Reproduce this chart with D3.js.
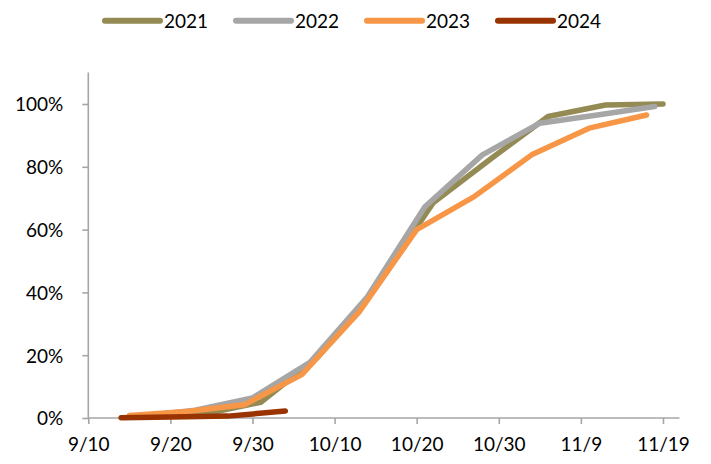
<!DOCTYPE html>
<html>
<head>
<meta charset="utf-8">
<script src="https://cdn.jsdelivr.net/npm/d3@7"></script>
<style>
  html, body { margin: 0; padding: 0; background: #fff; }
  svg { display: block; font-family: Lato, "Open Sans", sans-serif; }
</style>
</head>
<body>
<svg id="chart" width="711" height="464"></svg>
<script>
// Weekly cumulative progress, share of season total
const dates2021 = ["9/17", "9/24", "10/1", "10/8", "10/15", "10/22", "10/29", "11/5", "11/12", "11/19"];
const values2021 = [0.003, 0.012, 0.05, 0.195, 0.415, 0.685, 0.825, 0.96, 0.997, 1.0];

const dates2022 = ["9/16", "9/23", "9/30", "10/7", "10/14", "10/21", "10/28", "11/4", "11/11", "11/18"];
const values2022 = [0.005, 0.025, 0.064, 0.177, 0.386, 0.673, 0.838, 0.939, 0.965, 0.992];

const dates2023 = ["9/15", "9/22", "9/29", "10/6", "10/13", "10/20", "10/27", "11/3", "11/10", "11/17"];
const values2023 = [0.008, 0.021, 0.042, 0.138, 0.338, 0.6, 0.705, 0.838, 0.923, 0.965];

const dates2024 = ["9/14", "9/20", "9/27", "10/4"];
const values2024 = [0.001, 0.003, 0.006, 0.022];

const seriesNames = ["2021", "2022", "2023", "2024"];
const seriesColors = ["#948A54", "#A6A6A6", "#F79646", "#993300"];

const xTickLabels = ["9/10", "9/20", "9/30", "10/10", "10/20", "10/30", "11/9", "11/19"];
const yTickValues = [0, 0.2, 0.4, 0.6, 0.8, 1.0];

const parse = d3.timeParse("%m/%d");
const fmtDate = d => (d.getMonth() + 1) + "/" + d.getDate();

const series = [
  { name: seriesNames[0], color: seriesColors[0], pts: dates2021.map((d, i) => ({ x: parse(d), y: values2021[i] })) },
  { name: seriesNames[1], color: seriesColors[1], pts: dates2022.map((d, i) => ({ x: parse(d), y: values2022[i] })) },
  { name: seriesNames[2], color: seriesColors[2], pts: dates2023.map((d, i) => ({ x: parse(d), y: values2023[i] })) },
  { name: seriesNames[3], color: seriesColors[3], pts: dates2024.map((d, i) => ({ x: parse(d), y: values2024[i] })) }
];

const svg = d3.select("#chart");
const plotLeft = 88.3, plotRight = 679.4, plotTop = 72.6, plotBottom = 418;

const x = d3.scaleTime()
  .domain([parse("9/10"), parse("11/21")])
  .range([plotLeft, plotRight]);
const y = d3.scaleLinear()
  .domain([0, 1.1])
  .range([plotBottom, plotTop]);

const axisColor = "#A6A6A6";
const fontSize = 19;

// Y axis
const yAxis = svg.append("g")
  .attr("transform", `translate(${plotLeft},0)`)
  .call(d3.axisLeft(y).tickValues(yTickValues).tickFormat(d3.format(".0%")).tickSize(6).tickPadding(19));
yAxis.select(".domain").attr("d", `M0,${plotBottom}V${plotTop}`);

// X axis
const xAxis = svg.append("g")
  .attr("transform", `translate(0,${plotBottom})`)
  .call(d3.axisBottom(x).tickValues(xTickLabels.map(parse)).tickFormat(fmtDate).tickSize(6).tickPadding(10));
xAxis.select(".domain").attr("d", `M${plotLeft},0H${plotRight}`);

svg.selectAll(".domain, .tick line")
  .attr("stroke", axisColor)
  .attr("stroke-width", 1.6);
svg.selectAll(".tick text")
  .attr("fill", "#000")
  .style("font-size", fontSize + "px")
  .style("font-family", "Lato, sans-serif");
yAxis.selectAll(".tick text").attr("dy", "0.36em");
xAxis.selectAll(".tick text").attr("dy", "0.9em");

// Lines, earliest season drawn first
const line = d3.line().x(d => x(d.x)).y(d => y(d.y));
svg.append("g").selectAll("path")
  .data(series)
  .join("path")
  .attr("d", d => line(d.pts))
  .attr("fill", "none")
  .attr("stroke", d => d.color)
  .attr("stroke-width", 5.5)
  .attr("stroke-linecap", "round")
  .attr("stroke-linejoin", "round");

// Legend
const legendX = [105, 236, 367, 498];
const legend = svg.append("g").selectAll("g")
  .data(series)
  .join("g")
  .attr("transform", (d, i) => `translate(${legendX[i]},20.7)`);
legend.append("line")
  .attr("x1", 0).attr("x2", 55)
  .attr("stroke", d => d.color)
  .attr("stroke-width", 6)
  .attr("stroke-linecap", "round");
legend.append("text")
  .attr("x", 59)
  .attr("dy", "0.36em")
  .style("font-size", fontSize + "px")
  .attr("fill", "#000")
  .text(d => d.name);
</script>
</body>
</html>
